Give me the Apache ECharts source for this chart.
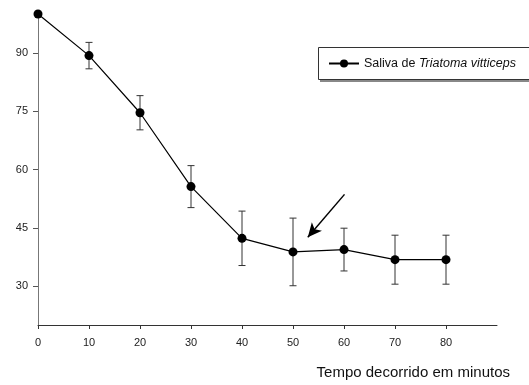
<!DOCTYPE html>
<html>
<head>
<meta charset="utf-8">
<script src="https://cdn.jsdelivr.net/npm/echarts@6/dist/echarts.min.js"></script>
<style>html,body{margin:0;padding:0;background:#fff}#c{width:529px;height:385px}</style>
</head>
<body>
<div id="c"></div>
<script>
var times = [0, 10, 20, 30, 40, 50, 60, 70, 80];
var means = [100, 89.3, 74.6, 55.6, 42.3, 38.8, 39.4, 36.8, 36.8];
var errors = [0, 3.4, 4.4, 5.4, 7.0, 8.7, 5.5, 6.3, 6.3];
var xTicks = [0, 10, 20, 30, 40, 50, 60, 70, 80];
var yTicks = [30, 45, 60, 75, 90];
var seriesName = 'Saliva de Triatoma vitticeps';
var xTitle = 'Tempo decorrido em minutos';

var font = 'Liberation Sans, Arial, sans-serif';
var lineData = times.map(function (t, i) { return [t, means[i]]; });
var errData = times.map(function (t, i) { return [t, means[i] - errors[i], means[i] + errors[i]]; });

var chart = echarts.init(document.getElementById('c'));
chart.setOption({
  animation: false,
  grid: { left: 38, right: 32, top: 14, bottom: 60 },
  graphic: [{
    type: 'rect', x: 320, y: 49, z: 0, silent: true,
    shape: { x: 0, y: 0, width: 230, height: 33 },
    style: { fill: '#888', stroke: null }
  }, {
    type: 'rect', x: 318.5, y: 47.5, z: 1, silent: true,
    shape: { x: 0, y: 0, width: 230, height: 32 },
    style: { fill: '#fff', stroke: '#333', lineWidth: 1 }
  }],
  xAxis: {
    type: 'value', min: 0, max: 90, interval: 10,
    name: xTitle, nameLocation: 'end', nameGap: 13,
    nameTextStyle: { fontFamily: font, fontSize: 15, color: '#111', align: 'right', verticalAlign: 'top', padding: [40, 0, 0, 0] },
    axisLine: { lineStyle: { color: '#333', width: 1 } },
    axisTick: { length: 4, lineStyle: { color: '#333' }, customValues: xTicks },
    axisLabel: { fontFamily: font, fontSize: 11, color: '#222', margin: 12, customValues: xTicks },
    splitLine: { show: false }
  },
  yAxis: {
    type: 'value', min: 20, max: 100,
    axisLine: { show: true, lineStyle: { color: '#777', width: 1 } },
    axisTick: { show: true, length: 5, lineStyle: { color: '#555' }, customValues: yTicks },
    axisLabel: { fontFamily: font, fontSize: 11, color: '#222', margin: 10, customValues: yTicks },
    splitLine: { show: false }
  },
  legend: {
    left: 318, top: 47, z: 5,
    padding: [10, 10, 10, 10],
    itemWidth: 30, itemHeight: 10, itemGap: 0,
    data: [seriesName],
    formatter: function () { return 'Saliva de {i|Triatoma vitticeps}'; },
    textStyle: {
      fontFamily: font, fontSize: 12.5, color: '#111',
      rich: { i: { fontStyle: 'italic', fontFamily: font, fontSize: 12.5, color: '#111' } }
    }
  },
  series: [
    {
      type: 'custom',
      name: 'err',
      data: errData,
      z: 1,
      silent: true,
      renderItem: function (params, api) {
        var x = api.value(0);
        var lo = api.coord([x, api.value(1)]);
        var hi = api.coord([x, api.value(2)]);
        var w = 3.5;
        var st = { stroke: '#333', lineWidth: 1 };
        return {
          type: 'group',
          children: [
            { type: 'line', shape: { x1: lo[0], y1: lo[1], x2: hi[0], y2: hi[1] }, style: st },
            { type: 'line', shape: { x1: lo[0] - w, y1: lo[1], x2: lo[0] + w, y2: lo[1] }, style: st },
            { type: 'line', shape: { x1: hi[0] - w, y1: hi[1], x2: hi[0] + w, y2: hi[1] }, style: st }
          ]
        };
      }
    },
    {
      type: 'line',
      name: seriesName,
      data: lineData,
      z: 3,
      symbol: 'circle', symbolSize: 9,
      showAllSymbol: true,
      lineStyle: { color: '#000', width: 1.2 },
      itemStyle: { color: '#000' },
      markLine: {
        silent: true,
        symbol: ['none', 'arrow'],
        symbolSize: [10, 14],
        label: { show: false },
        lineStyle: { color: '#000', width: 1.5, type: 'solid' },
        data: [[{ coord: [60.1, 53.6] }, { coord: [52.9, 42.6] }]]
      }
    }
  ]
});
</script>
</body>
</html>
